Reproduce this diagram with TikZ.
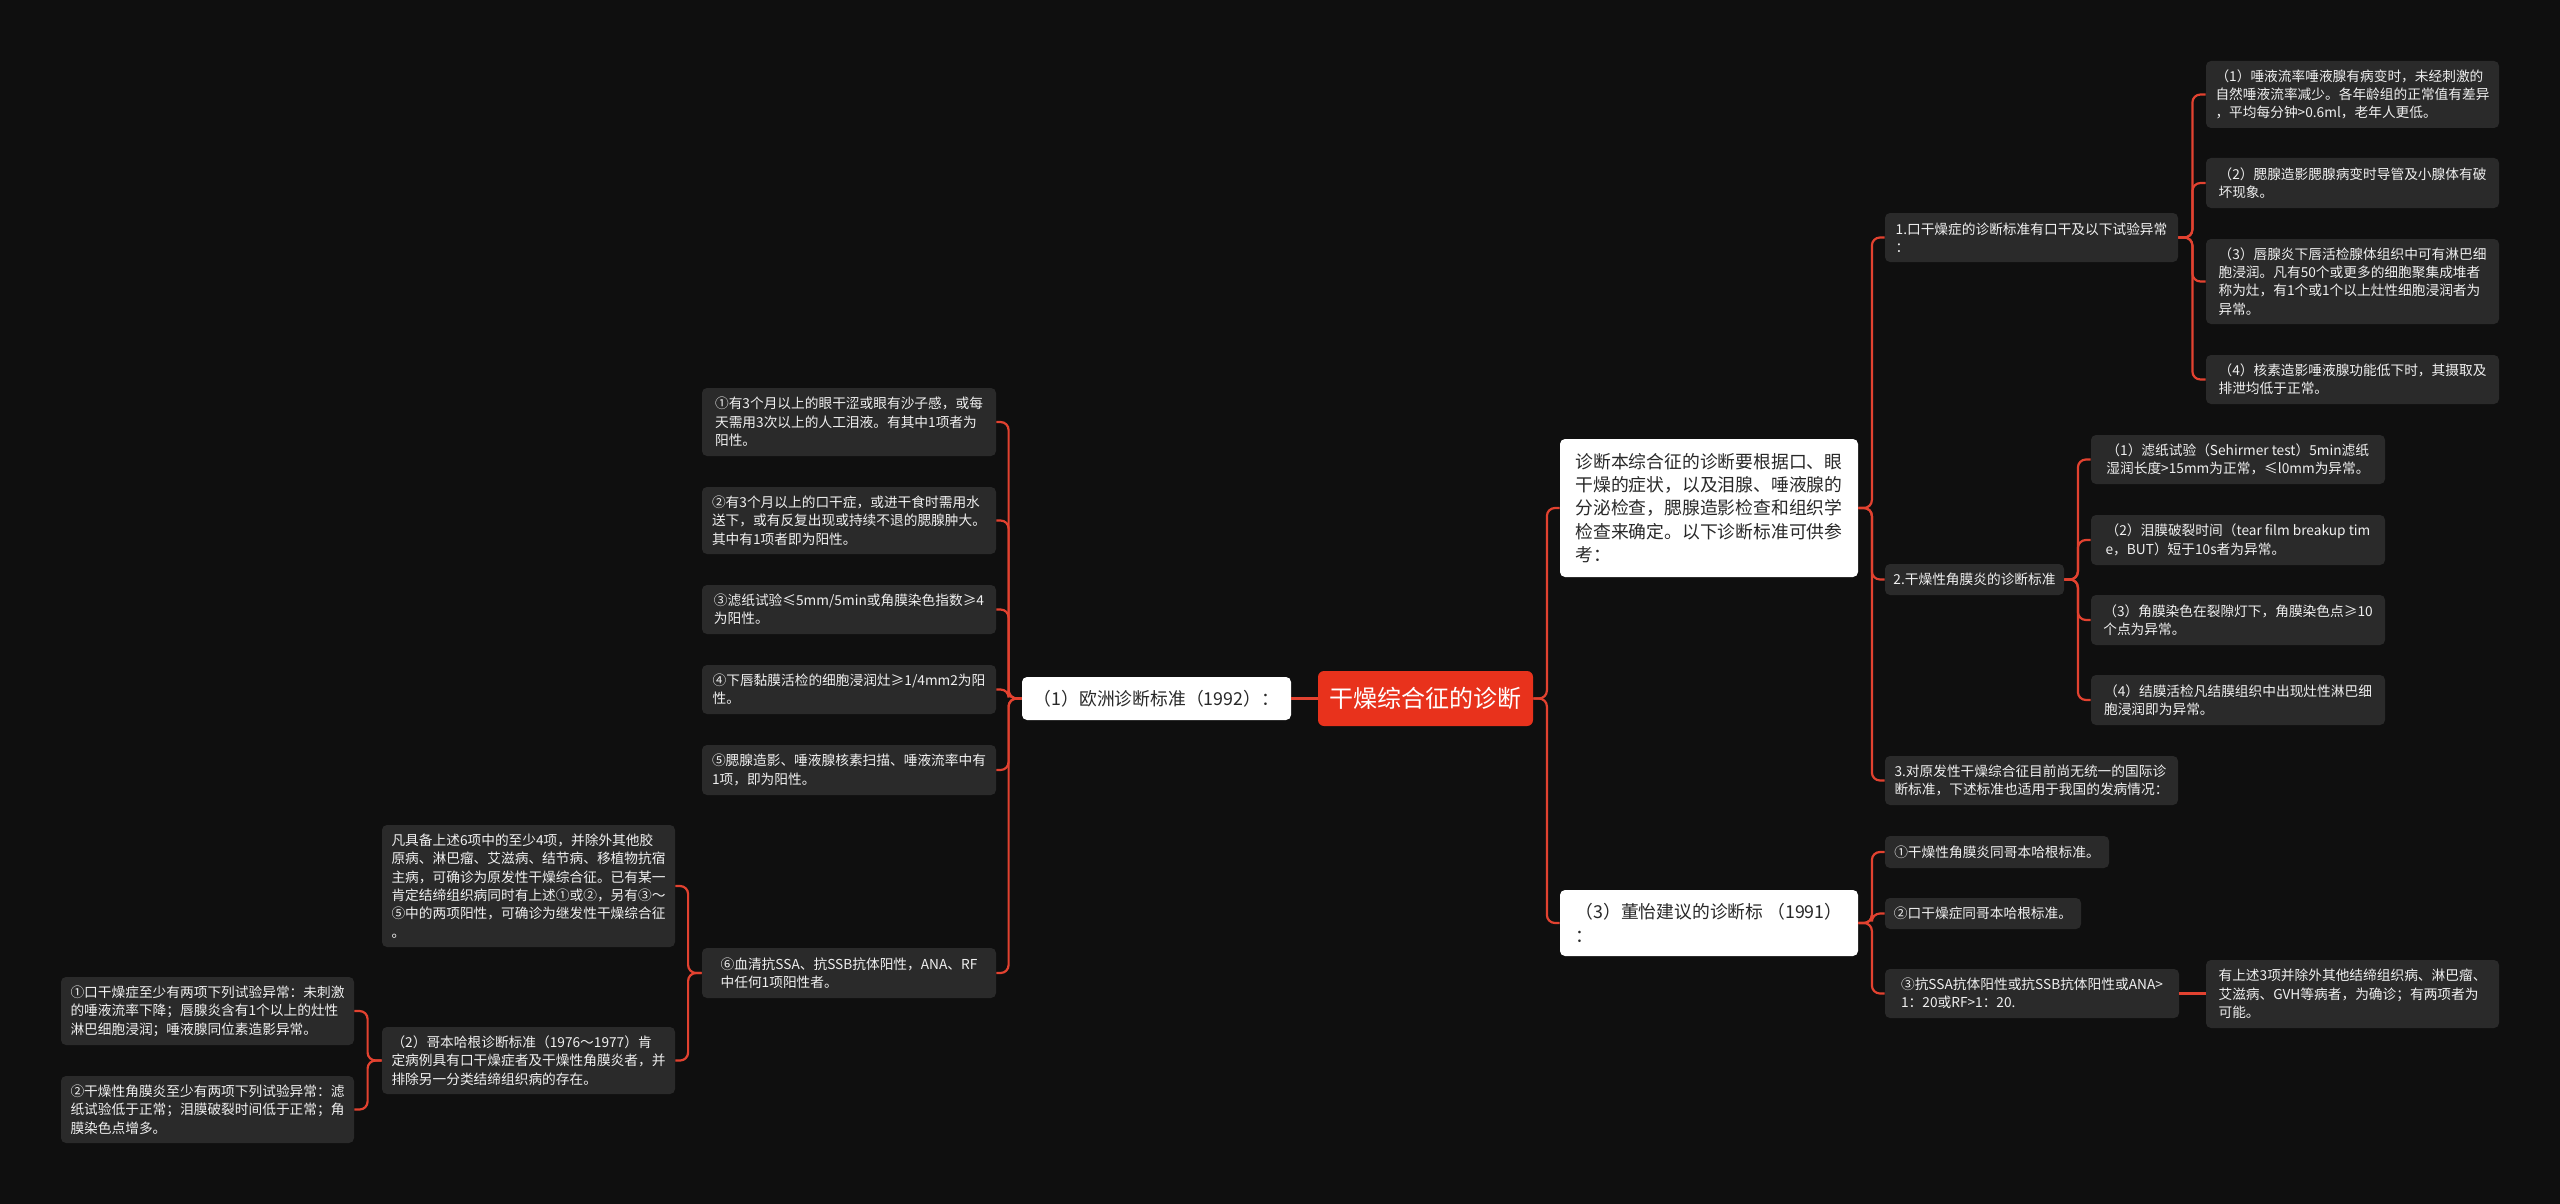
\documentclass[tikz,border=0pt]{standalone}
\usepackage{fontspec}
\setmainfont{Noto Sans CJK SC}
\definecolor{bgcol}{RGB}{15,15,15}
\definecolor{leafgray}{RGB}{42,42,42}
\definecolor{leaftext}{RGB}{240,240,240}
\definecolor{linered}{RGB}{226,66,48}
\definecolor{rootred}{RGB}{232,50,28}
\definecolor{wtext}{RGB}{40,40,40}
\newcommand\leaffont{\fontsize{6.85pt}{9.15pt}\selectfont}
\newcommand\wfont{\fontsize{8.9pt}{11.65pt}\selectfont}
\newcommand\rootfont{\fontsize{12pt}{14pt}\selectfont}
\tikzset{
  conn/.style={draw=linered, line width=1.1pt, rounded corners=4pt},
  leaf/.style={fill=leafgray, text=leaftext, rounded corners=2.5pt, inner xsep=3.5pt, inner ysep=0pt, align=left, font=\leaffont},
  wbox/.style={fill=white, text=wtext, rounded corners=2.5pt, inner xsep=4.5pt, inner ysep=0pt, font=\wfont},
  rootbox/.style={fill=rootred, text=white, rounded corners=3pt, inner sep=0pt, font=\rootfont}
}
\begin{document}
\begin{tikzpicture}[x=0.5pt, y=-0.5pt]
\useasboundingbox (0,0) rectangle (2560,1204);
\fill[bgcol] (0,0) rectangle (2560,1204);

% root and level 1
\node[rootbox, minimum width=107.5pt, minimum height=27.5pt] (root) at (1425.5,698.5) {干燥综合征的诊断};
\node[wbox, align=center, minimum width=134.5pt, minimum height=21.5pt] (E) at (1156.5,698.5) {（1）欧洲诊断标准（1992）：};
\node[wbox, align=left, minimum width=149pt, minimum height=69pt] (A) at (1709,508) {诊断本综合征的诊断要根据口、眼\\干燥的症状，以及泪腺、唾液腺的\\分泌检查，腮腺造影检查和组织学\\检查来确定。以下诊断标准可供参\\考：};
\node[wbox, align=left, minimum width=149pt, minimum height=33pt] (B) at (1709,923) {（3）董怡建议的诊断标~（1991）\\：};

% right, under A
\node[leaf, minimum width=146.5pt, minimum height=24.5pt] (R1) at (2031.5,237.5) {1.口干燥症的诊断标准有口干及以下试验异常\\：};
\node[leaf, minimum width=89.5pt, minimum height=15.5pt] (R2) at (1974.5,579.5) {2.干燥性角膜炎的诊断标准};
\node[leaf, minimum width=146.5pt, minimum height=24.5pt] (R3) at (2031.5,780.5) {3.对原发性干燥综合征目前尚无统一的国际诊\\断标准，下述标准也适用于我国的发病情况：};

\node[leaf, minimum width=146.5pt, minimum height=33.5pt] (R1a) at (2352.5,94.5) {（1）唾液流率唾液腺有病变时，未经刺激的\\自然唾液流率减少。各年龄组的正常值有差异\\，平均每分钟>0.6ml，老年人更低。};
\node[leaf, minimum width=146.5pt, minimum height=25pt] (R1b) at (2352.5,183) {（2）腮腺造影腮腺病变时导管及小腺体有破\\坏现象。};
\node[leaf, minimum width=146.5pt, minimum height=42.5pt] (R1c) at (2352.5,281.5) {（3）唇腺炎下唇活检腺体组织中可有淋巴细\\胞浸润。凡有50个或更多的细胞聚集成堆者\\称为灶，有1个或1个以上灶性细胞浸润者为\\异常。};
\node[leaf, minimum width=146.5pt, minimum height=24.5pt] (R1d) at (2352.5,379.5) {（4）核素造影唾液腺功能低下时，其摄取及\\排泄均低于正常。};

\node[leaf, minimum width=147pt, minimum height=24.5pt] (R2a) at (2238,459.5) {（1）滤纸试验（Sehirmer~test）5min滤纸\\湿润长度>15mm为正常，≤l0mm为异常。};
\node[leaf, minimum width=147pt, minimum height=25pt] (R2b) at (2238,540) {（2）泪膜破裂时间（tear~film~breakup~tim\\e，BUT）短于10s者为异常。};
\node[leaf, minimum width=147pt, minimum height=25pt] (R2c) at (2238,620) {（3）角膜染色在裂隙灯下，角膜染色点≥10\\个点为异常。};
\node[leaf, minimum width=147pt, minimum height=25pt] (R2d) at (2238,700) {（4）结膜活检凡结膜组织中出现灶性淋巴细\\胞浸润即为异常。};

% right, under B
\node[leaf, minimum width=112pt, minimum height=16pt] (B1) at (1997,852) {①干燥性角膜炎同哥本哈根标准。};
\node[leaf, minimum width=98pt, minimum height=15.5pt] (B2) at (1983,913.5) {②口干燥症同哥本哈根标准。};
\node[leaf, minimum width=147pt, minimum height=24.5pt] (B3) at (2032,993.5) {③抗SSA抗体阳性或抗SSB抗体阳性或ANA>\\1：20或RF>1：20.};
\node[leaf, minimum width=146.5pt, minimum height=34pt] (B3a) at (2352.5,994) {有上述3项并除外其他结缔组织病、淋巴瘤、\\艾滋病、GVH等病者，为确诊；有两项者为\\可能。};

% left, under E
\node[leaf, minimum width=147pt, minimum height=34pt] (L1) at (849,422) {①有3个月以上的眼干涩或眼有沙子感，或每\\天需用3次以上的人工泪液。有其中1项者为\\阳性。};
\node[leaf, minimum width=147pt, minimum height=33.5pt] (L2) at (849,520.5) {②有3个月以上的口干症，或进干食时需用水\\送下，或有反复出现或持续不退的腮腺肿大。\\其中有1项者即为阳性。};
\node[leaf, minimum width=147pt, minimum height=24.5pt] (L3) at (849,609.5) {③滤纸试验≤5mm/5min或角膜染色指数≥4\\为阳性。};
\node[leaf, minimum width=147pt, minimum height=24.5pt] (L4) at (849,689.5) {④下唇黏膜活检的细胞浸润灶≥1/4mm2为阳\\性。};
\node[leaf, minimum width=147pt, minimum height=25pt] (L5) at (849,770) {⑤腮腺造影、唾液腺核素扫描、唾液流率中有\\1项，即为阳性。};
\node[leaf, minimum width=147pt, minimum height=25pt] (L6) at (849,973) {⑥血清抗SSA、抗SSB抗体阳性，ANA、RF\\中任何1项阳性者。};

\node[leaf, minimum width=146.5pt, minimum height=61pt] (L6a) at (528.5,886) {凡具备上述6项中的至少4项，并除外其他胶\\原病、淋巴瘤、艾滋病、结节病、移植物抗宿\\主病，可确诊为原发性干燥综合征。已有某一\\肯定结缔组织病同时有上述①或②，另有③～\\⑤中的两项阳性，可确诊为继发性干燥综合征\\。};
\node[leaf, minimum width=146.5pt, minimum height=33.5pt] (L6b) at (528.5,1060.5) {（2）哥本哈根诊断标准（1976～1977）肯\\定病例具有口干燥症者及干燥性角膜炎者，并\\排除另一分类结缔组织病的存在。};

\node[leaf, minimum width=146.5pt, minimum height=34pt] (L6b1) at (207.5,1011) {①口干燥症至少有两项下列试验异常：未刺激\\的唾液流率下降；唇腺炎含有1个以上的灶性\\淋巴细胞浸润；唾液腺同位素造影异常。};
\node[leaf, minimum width=146.5pt, minimum height=33.5pt] (L6b2) at (207.5,1109.5) {②干燥性角膜炎至少有两项下列试验异常：滤\\纸试验低于正常；泪膜破裂时间低于正常；角\\膜染色点增多。};

% connectors
\draw[conn] (root.west) -- (E.east |- root.west);
\foreach \c in {A,B} \draw[conn] (root.east) -- ++(13.5,0) |- (\c.west);
\foreach \c in {R1,R2,R3} \draw[conn] (A.east) -- ++(13.5,0) |- (\c.west);
\foreach \c in {R1a,R1b,R1c,R1d} \draw[conn] (R1.east) -- ++(14,0) |- (\c.west);
\foreach \c in {R2a,R2b,R2c,R2d} \draw[conn] (R2.east) -- ++(13.5,0) |- (\c.west);
\foreach \c in {B1,B2,B3} \draw[conn] (B.east) -- ++(13.5,0) |- (\c.west);
\draw[conn] (B3.east) -- (B3a.west |- B3.east);
\foreach \c in {L1,L2,L3,L4,L5,L6} \draw[conn] (E.west) -- ++(-13,0) |- (\c.east);
\foreach \c in {L6a,L6b} \draw[conn] (L6.west) -- ++(-13.5,0) |- (\c.east);
\foreach \c in {L6b1,L6b2} \draw[conn] (L6b.west) -- ++(-14,0) |- (\c.east);
\end{tikzpicture}
\end{document}
